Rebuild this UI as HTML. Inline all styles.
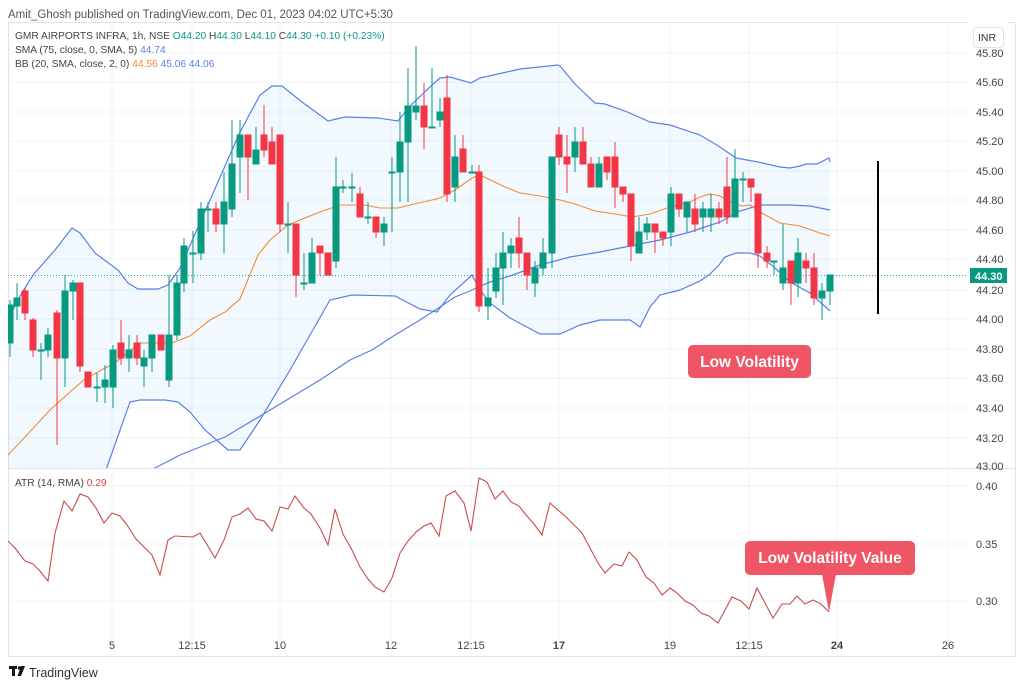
<!DOCTYPE html>
<html><head><meta charset="utf-8"><style>
html,body{margin:0;padding:0;background:#fff;width:1024px;height:687px;overflow:hidden}
svg{display:block;font-family:"Liberation Sans",sans-serif}
</style></head><body>
<svg width="1024" height="687" viewBox="0 0 1024 687" xmlns="http://www.w3.org/2000/svg">
<defs>
<clipPath id="mp"><rect x="8" y="22" width="960" height="446"/></clipPath>
<clipPath id="ap"><rect x="8" y="469" width="960" height="160"/></clipPath>
</defs>
<rect x="0" y="0" width="1024" height="687" fill="#fff"/>
<text x="8" y="18" font-size="11.5" fill="#555">Amit_Ghosh published on TradingView.com, Dec 01, 2023 04:02 UTC+5:30</text>
<rect x="8.5" y="22.5" width="1007" height="634" fill="none" stroke="#e0e3eb"/>
<line x1="8" y1="468.5" x2="1016" y2="468.5" stroke="#e0e3eb"/>
<g stroke="#f0f3fa" stroke-width="1">
<line x1="8" y1="53" x2="968" y2="53"/><line x1="8" y1="82" x2="968" y2="82"/><line x1="8" y1="112" x2="968" y2="112"/><line x1="8" y1="141" x2="968" y2="141"/><line x1="8" y1="171" x2="968" y2="171"/><line x1="8" y1="200" x2="968" y2="200"/><line x1="8" y1="230" x2="968" y2="230"/><line x1="8" y1="259" x2="968" y2="259"/><line x1="8" y1="290" x2="968" y2="290"/><line x1="8" y1="319" x2="968" y2="319"/><line x1="8" y1="349" x2="968" y2="349"/><line x1="8" y1="378" x2="968" y2="378"/><line x1="8" y1="408" x2="968" y2="408"/><line x1="8" y1="438" x2="968" y2="438"/>
<line x1="8" y1="486" x2="968" y2="486"/><line x1="8" y1="544" x2="968" y2="544"/><line x1="8" y1="601" x2="968" y2="601"/>
<line x1="112" y1="22" x2="112" y2="656"/><line x1="192" y1="22" x2="192" y2="656"/><line x1="280" y1="22" x2="280" y2="656"/><line x1="391" y1="22" x2="391" y2="656"/><line x1="471" y1="22" x2="471" y2="656"/><line x1="559" y1="22" x2="559" y2="656"/><line x1="670" y1="22" x2="670" y2="656"/><line x1="749" y1="22" x2="749" y2="656"/><line x1="837" y1="22" x2="837" y2="656"/><line x1="948" y1="22" x2="948" y2="656"/>
</g>
<g clip-path="url(#mp)">
<polygon fill="#2196f3" fill-opacity="0.06" points="8,320 20,296 33,275 55,250 72,228 80,233 95,253 118,270 128,283 138,289 158,289 168,285 180,268 240,132 260,95 272,86 282,86 302,102 328,121 345,117 378,118 398,121 410,106 432,85 440,78 450,77 471,83 480,78 520,69 558,65 560,66 575,84 595,103 605,104 625,111 650,122 670,125 700,135 720,147 736,158 758,162 780,167 790,168 800,166 806,164 817,164 829,158 830,162 830,311 810,293 790,282 775,268 760,256 750,253 736,253 725,257 719,265 710,274 700,281 680,290 660,295 650,307 640,327 630,320 600,320 580,325 560,334 540,334 510,318 490,303 480,290 472,275 450,295 437,312 420,309 395,296 352,295 330,300 290,370 260,420 240,450 228,450 205,430 190,412 178,402 165,400 140,400 130,402 107,467 80,540 8,560"/>
<polyline fill="none" stroke="#5b7fe6" stroke-width="1.2" points="8,320 20,296 33,275 55,250 72,228 80,233 95,253 118,270 128,283 138,289 158,289 168,285 180,268 240,132 260,95 272,86 282,86 302,102 328,121 345,117 378,118 398,121 410,106 432,85 440,78 450,77 471,83 480,78 520,69 558,65 560,66 575,84 595,103 605,104 625,111 650,122 670,125 700,135 720,147 736,158 758,162 780,167 790,168 800,166 806,164 817,164 829,158 830,162"/>
<polyline fill="none" stroke="#5b7fe6" stroke-width="1.2" points="100,490 107,467 130,402 140,400 165,400 178,402 190,412 205,430 228,450 240,450 260,420 290,370 330,300 352,295 395,296 420,309 437,312 450,295 472,275 480,290 490,303 510,318 540,334 560,334 580,325 600,320 630,320 640,327 650,307 660,295 680,290 700,281 710,274 719,265 725,257 736,253 750,253 760,256 775,268 790,282 810,293 830,311"/>
<polyline fill="none" stroke="#5b7fe6" stroke-width="1.2" points="150,470 157,467 180,455 200,447 225,437 245,425 262,415 290,398 320,380 350,360 372,350 395,335 420,320 440,307 455,297 472,290 490,282 510,276 540,265 570,257 600,252 630,246 660,240 690,232 720,222 740,211 760,205 790,205 810,206 830,210"/>
<polyline fill="none" stroke="#f28a35" stroke-width="1.1" points="8,455 25,437 50,410 70,392 85,379 105,368 112,365 140,343 160,343 172,343 190,336 210,320 225,312 240,299 258,255 270,240 288,225 305,218 320,212 340,205 365,205 380,208 398,208 410,205 432,200 440,198 455,190 472,178 480,175 505,187 520,193 540,196 560,200 575,204 595,211 615,214 632,217 650,214 670,207 690,202 700,197 710,194 720,196 730,202 742,206 750,205 760,212 780,223 800,226 820,233 830,236"/>
<line x1="8" y1="275.5" x2="968" y2="275.5" stroke="#26a69a" stroke-dasharray="1,2" stroke-width="1"/>
<g stroke-width="1">
<g stroke="#089981" fill="#089981">
<line x1="10" y1="300" x2="10" y2="357"/><rect x="7" y="305" width="6" height="38"/>
<line x1="17" y1="283" x2="17" y2="320"/><rect x="14" y="298" width="6" height="8"/>
<line x1="41" y1="343" x2="41" y2="380"/><rect x="38" y="350" width="6" height="1"/>
<line x1="48" y1="328" x2="48" y2="357"/><rect x="45" y="335" width="6" height="15"/>
<line x1="65" y1="275" x2="65" y2="387"/><rect x="62" y="291" width="6" height="67"/>
<line x1="73" y1="280" x2="73" y2="320"/><rect x="70" y="283" width="6" height="8"/>
<line x1="97" y1="373" x2="97" y2="402"/><rect x="94" y="387" width="6" height="1"/>
<line x1="105" y1="365" x2="105" y2="403"/><rect x="102" y="380" width="6" height="7"/>
<line x1="113" y1="345" x2="113" y2="408"/><rect x="110" y="350" width="6" height="37"/>
<line x1="129" y1="335" x2="129" y2="372"/><rect x="126" y="350" width="6" height="8"/>
<line x1="144" y1="350" x2="144" y2="387"/><rect x="141" y="358" width="6" height="8"/>
<line x1="152" y1="335" x2="152" y2="372"/><rect x="149" y="335" width="6" height="23"/>
<line x1="169" y1="275" x2="169" y2="387"/><rect x="166" y="335" width="6" height="45"/>
<line x1="177" y1="275" x2="177" y2="340"/><rect x="174" y="283" width="6" height="52"/>
<line x1="184" y1="238" x2="184" y2="292"/><rect x="181" y="246" width="6" height="37"/>
<line x1="193" y1="231" x2="193" y2="283"/><rect x="190" y="253" width="6" height="1"/>
<line x1="201" y1="202" x2="201" y2="260"/><rect x="198" y="209" width="6" height="44"/>
<line x1="208" y1="202" x2="208" y2="232"/><rect x="205" y="209" width="6" height="1"/>
<line x1="224" y1="172" x2="224" y2="253"/><rect x="221" y="202" width="6" height="22"/>
<line x1="232" y1="120" x2="232" y2="217"/><rect x="229" y="164" width="6" height="45"/>
<line x1="240" y1="120" x2="240" y2="193"/><rect x="237" y="135" width="6" height="22"/>
<line x1="256" y1="127" x2="256" y2="164"/><rect x="253" y="150" width="6" height="14"/>
<line x1="288" y1="202" x2="288" y2="253"/><rect x="285" y="224" width="6" height="1"/>
<line x1="304" y1="253" x2="304" y2="290"/><rect x="301" y="283" width="6" height="1"/>
<line x1="312" y1="238" x2="312" y2="283"/><rect x="309" y="253" width="6" height="30"/>
<line x1="336" y1="157" x2="336" y2="268"/><rect x="333" y="187" width="6" height="74"/>
<line x1="343" y1="180" x2="343" y2="193"/><rect x="340" y="187" width="6" height="1"/>
<line x1="352" y1="173" x2="352" y2="202"/><rect x="349" y="187" width="6" height="1"/>
<line x1="368" y1="202" x2="368" y2="224"/><rect x="365" y="217" width="6" height="1"/>
<line x1="384" y1="217" x2="384" y2="246"/><rect x="381" y="224" width="6" height="8"/>
<line x1="392" y1="157" x2="392" y2="232"/><rect x="389" y="172" width="6" height="1"/>
<line x1="400" y1="112" x2="400" y2="202"/><rect x="397" y="142" width="6" height="30"/>
<line x1="408" y1="68" x2="408" y2="202"/><rect x="405" y="106" width="6" height="36"/>
<line x1="416" y1="46" x2="416" y2="120"/><rect x="413" y="106" width="6" height="6"/>
<line x1="432" y1="68" x2="432" y2="127"/><rect x="429" y="127" width="6" height="1"/>
<line x1="440" y1="98" x2="440" y2="127"/><rect x="437" y="112" width="6" height="8"/>
<line x1="455" y1="135" x2="455" y2="202"/><rect x="452" y="157" width="6" height="30"/>
<line x1="472" y1="165" x2="472" y2="172"/><rect x="469" y="172" width="6" height="1"/>
<line x1="488" y1="268" x2="488" y2="320"/><rect x="485" y="298" width="6" height="8"/>
<line x1="496" y1="253" x2="496" y2="298"/><rect x="493" y="268" width="6" height="23"/>
<line x1="503" y1="232" x2="503" y2="305"/><rect x="500" y="253" width="6" height="15"/>
<line x1="511" y1="238" x2="511" y2="268"/><rect x="508" y="246" width="6" height="7"/>
<line x1="535" y1="261" x2="535" y2="297"/><rect x="532" y="268" width="6" height="15"/>
<line x1="543" y1="238" x2="543" y2="275"/><rect x="540" y="253" width="6" height="15"/>
<line x1="552" y1="157" x2="552" y2="268"/><rect x="549" y="157" width="6" height="96"/>
<line x1="575" y1="127" x2="575" y2="172"/><rect x="572" y="142" width="6" height="15"/>
<line x1="599" y1="157" x2="599" y2="187"/><rect x="596" y="164" width="6" height="23"/>
<line x1="639" y1="217" x2="639" y2="253"/><rect x="636" y="232" width="6" height="21"/>
<line x1="647" y1="217" x2="647" y2="240"/><rect x="644" y="224" width="6" height="8"/>
<line x1="671" y1="187" x2="671" y2="246"/><rect x="668" y="194" width="6" height="38"/>
<line x1="687" y1="202" x2="687" y2="232"/><rect x="684" y="202" width="6" height="15"/>
<line x1="703" y1="202" x2="703" y2="232"/><rect x="700" y="209" width="6" height="8"/>
<line x1="711" y1="194" x2="711" y2="232"/><rect x="708" y="209" width="6" height="8"/>
<line x1="735" y1="149" x2="735" y2="217"/><rect x="732" y="179" width="6" height="38"/>
<line x1="743" y1="172" x2="743" y2="202"/><rect x="740" y="179" width="6" height="1"/>
<line x1="774" y1="261" x2="774" y2="275"/><rect x="771" y="261" width="6" height="1"/>
<line x1="783" y1="224" x2="783" y2="290"/><rect x="780" y="268" width="6" height="15"/>
<line x1="798" y1="238" x2="798" y2="297"/><rect x="795" y="253" width="6" height="30"/>
<line x1="822" y1="283" x2="822" y2="320"/><rect x="819" y="291" width="6" height="7"/>
<line x1="830" y1="275" x2="830" y2="305"/><rect x="827" y="275" width="6" height="16"/>
</g>
<g stroke="#f23645" fill="#f23645">
<line x1="25" y1="288" x2="25" y2="320"/><rect x="22" y="291" width="6" height="22"/>
<line x1="33" y1="318" x2="33" y2="357"/><rect x="30" y="320" width="6" height="30"/>
<line x1="57" y1="310" x2="57" y2="445"/><rect x="54" y="313" width="6" height="45"/>
<line x1="80" y1="283" x2="80" y2="372"/><rect x="77" y="283" width="6" height="83"/>
<line x1="88" y1="372" x2="88" y2="387"/><rect x="85" y="372" width="6" height="15"/>
<line x1="121" y1="320" x2="121" y2="365"/><rect x="118" y="343" width="6" height="15"/>
<line x1="137" y1="335" x2="137" y2="365"/><rect x="134" y="343" width="6" height="15"/>
<line x1="161" y1="335" x2="161" y2="350"/><rect x="158" y="335" width="6" height="15"/>
<line x1="216" y1="202" x2="216" y2="232"/><rect x="213" y="209" width="6" height="15"/>
<line x1="248" y1="135" x2="248" y2="200"/><rect x="245" y="135" width="6" height="22"/>
<line x1="264" y1="105" x2="264" y2="157"/><rect x="261" y="135" width="6" height="15"/>
<line x1="272" y1="127" x2="272" y2="164"/><rect x="269" y="142" width="6" height="22"/>
<line x1="280" y1="135" x2="280" y2="232"/><rect x="277" y="135" width="6" height="89"/>
<line x1="296" y1="224" x2="296" y2="297"/><rect x="293" y="224" width="6" height="51"/>
<line x1="320" y1="246" x2="320" y2="275"/><rect x="317" y="246" width="6" height="7"/>
<line x1="328" y1="253" x2="328" y2="275"/><rect x="325" y="253" width="6" height="22"/>
<line x1="360" y1="187" x2="360" y2="217"/><rect x="357" y="194" width="6" height="23"/>
<line x1="376" y1="217" x2="376" y2="238"/><rect x="373" y="217" width="6" height="15"/>
<line x1="424" y1="83" x2="424" y2="149"/><rect x="421" y="106" width="6" height="21"/>
<line x1="447" y1="75" x2="447" y2="202"/><rect x="444" y="98" width="6" height="96"/>
<line x1="463" y1="135" x2="463" y2="172"/><rect x="460" y="149" width="6" height="23"/>
<line x1="479" y1="165" x2="479" y2="312"/><rect x="476" y="172" width="6" height="134"/>
<line x1="519" y1="217" x2="519" y2="268"/><rect x="516" y="238" width="6" height="15"/>
<line x1="527" y1="253" x2="527" y2="290"/><rect x="524" y="253" width="6" height="22"/>
<line x1="559" y1="127" x2="559" y2="165"/><rect x="556" y="135" width="6" height="22"/>
<line x1="567" y1="135" x2="567" y2="193"/><rect x="564" y="157" width="6" height="7"/>
<line x1="583" y1="127" x2="583" y2="164"/><rect x="580" y="142" width="6" height="22"/>
<line x1="591" y1="157" x2="591" y2="187"/><rect x="588" y="164" width="6" height="23"/>
<line x1="607" y1="157" x2="607" y2="180"/><rect x="604" y="157" width="6" height="15"/>
<line x1="615" y1="142" x2="615" y2="208"/><rect x="612" y="157" width="6" height="30"/>
<line x1="623" y1="187" x2="623" y2="202"/><rect x="620" y="187" width="6" height="7"/>
<line x1="631" y1="194" x2="631" y2="261"/><rect x="628" y="194" width="6" height="52"/>
<line x1="655" y1="224" x2="655" y2="253"/><rect x="652" y="224" width="6" height="8"/>
<line x1="663" y1="232" x2="663" y2="246"/><rect x="660" y="232" width="6" height="6"/>
<line x1="679" y1="194" x2="679" y2="217"/><rect x="676" y="194" width="6" height="15"/>
<line x1="695" y1="194" x2="695" y2="232"/><rect x="692" y="209" width="6" height="15"/>
<line x1="719" y1="202" x2="719" y2="224"/><rect x="716" y="209" width="6" height="8"/>
<line x1="727" y1="157" x2="727" y2="224"/><rect x="724" y="187" width="6" height="30"/>
<line x1="751" y1="179" x2="751" y2="202"/><rect x="748" y="179" width="6" height="8"/>
<line x1="758" y1="194" x2="758" y2="268"/><rect x="755" y="194" width="6" height="59"/>
<line x1="767" y1="246" x2="767" y2="268"/><rect x="764" y="253" width="6" height="8"/>
<line x1="791" y1="261" x2="791" y2="305"/><rect x="788" y="261" width="6" height="22"/>
<line x1="806" y1="253" x2="806" y2="283"/><rect x="803" y="261" width="6" height="7"/>
<line x1="814" y1="253" x2="814" y2="305"/><rect x="811" y="268" width="6" height="30"/>
</g>
</g>
<line x1="878" y1="161" x2="878" y2="314" stroke="#000" stroke-width="2"/>
</g>
<g font-size="11" fill="#444">
<text x="976" y="57">45.80</text><text x="976" y="86">45.60</text><text x="976" y="116">45.40</text><text x="976" y="145">45.20</text><text x="976" y="175">45.00</text><text x="976" y="204">44.80</text><text x="976" y="234">44.60</text><text x="976" y="263">44.40</text><text x="976" y="294">44.20</text><text x="976" y="323">44.00</text><text x="976" y="353">43.80</text><text x="976" y="382">43.60</text><text x="976" y="412">43.40</text><text x="976" y="442">43.20</text><text x="976" y="470">43.00</text>
<text x="976" y="490">0.40</text><text x="976" y="548">0.35</text><text x="976" y="605">0.30</text>
</g>
<rect x="968" y="22" width="40" height="24" fill="#fff"/>
<rect x="973.5" y="27.5" width="30" height="20" rx="3" fill="#fff" stroke="#e0e3eb"/>
<text x="978" y="41" font-size="10.5" fill="#333">INR</text>
<rect x="970" y="268" width="37" height="15" fill="#089981"/>
<text x="975" y="280" font-size="11" fill="#fff" font-weight="bold">44.30</text>
<g font-size="10.2">
<text x="15" y="39" fill="#444">GMR AIRPORTS INFRA, 1h, NSE  <tspan fill="#089981">O44.20</tspan>  <tspan>H</tspan><tspan fill="#089981">44.30</tspan>  <tspan>L</tspan><tspan fill="#089981">44.10</tspan>  <tspan>C</tspan><tspan fill="#089981">44.30  +0.10 (+0.23%)</tspan></text>
<text x="15" y="53" fill="#444">SMA (75, close, 0, SMA, 5)  <tspan fill="#5b7fe6">44.74</tspan></text>
<text x="15" y="67" fill="#444">BB (20, SMA, close, 2, 0)  <tspan fill="#f28a35">44.56</tspan>  <tspan fill="#5b7fe6">45.06</tspan>  <tspan fill="#5b7fe6">44.06</tspan></text>
<text x="15" y="486" fill="#444">ATR (14, RMA)  <tspan fill="#e0424f">0.29</tspan></text>
</g>
<polyline clip-path="url(#ap)" fill="none" stroke="#c94c4c" stroke-width="1.1" points="8,541 15,548 25,561 33,564 40,571 48,581 55,533 64,501 72,511 80,494 88,497 96,508 104,523 112,513 120,516 127,525 136,539 144,547 152,555 160,575 168,540 175,536 193,537 200,533 215,558 224,540 232,517 240,514 248,508 256,519 264,521 272,531 280,507 288,509 295,496 304,508 311,514 320,528 328,545 335,509 343,534 352,550 360,567 368,579 375,587 384,592 392,578 400,553 408,541 416,532 424,526 431,523 439,536 446,496 455,491 464,503 471,531 479,478 487,482 495,499 503,491 511,502 519,506 526,515 534,524 542,535 550,503 558,510 566,517 574,525 582,533 590,548 598,563 605,573 614,564 622,566 629,552 637,560 646,577 654,583 662,595 670,588 677,593 685,601 693,605 701,613 709,616 718,623 732,597 741,601 749,609 757,588 765,603 773,618 782,604 790,604 797,596 805,604 813,600 821,604 829,612"/>
<g font-size="11" fill="#444" text-anchor="middle">
<text x="112" y="649">5</text><text x="192" y="649">12:15</text><text x="280" y="649">10</text><text x="391" y="649">12</text><text x="471" y="649">12:15</text><text x="559" y="649" font-weight="bold">17</text><text x="670" y="649">19</text><text x="749" y="649">12:15</text><text x="837" y="649" font-weight="bold">24</text><text x="948" y="649">26</text>
</g>
<rect x="688" y="345" width="123" height="33" rx="5" fill="#f05566"/>
<text x="749.5" y="367" font-size="15.5" font-weight="bold" fill="#fff" text-anchor="middle">Low Volatility</text>
<rect x="745" y="541" width="170" height="34" rx="5" fill="#f05566"/>
<polygon points="822,574 836,574 829,612" fill="#f05566"/>
<text x="830" y="563" font-size="15.5" font-weight="bold" fill="#fff" text-anchor="middle">Low Volatility Value</text>
<rect x="9" y="666" width="8" height="3" fill="#131722"/><rect x="12" y="666" width="3" height="10" fill="#131722"/><circle cx="19.5" cy="668" r="1.7" fill="#131722"/><polygon points="21,666 25,666 21,676 17.5,676" fill="#131722"/>
<text x="29" y="677" font-size="12.5" fill="#333">TradingView</text>
</svg>
</body></html>
